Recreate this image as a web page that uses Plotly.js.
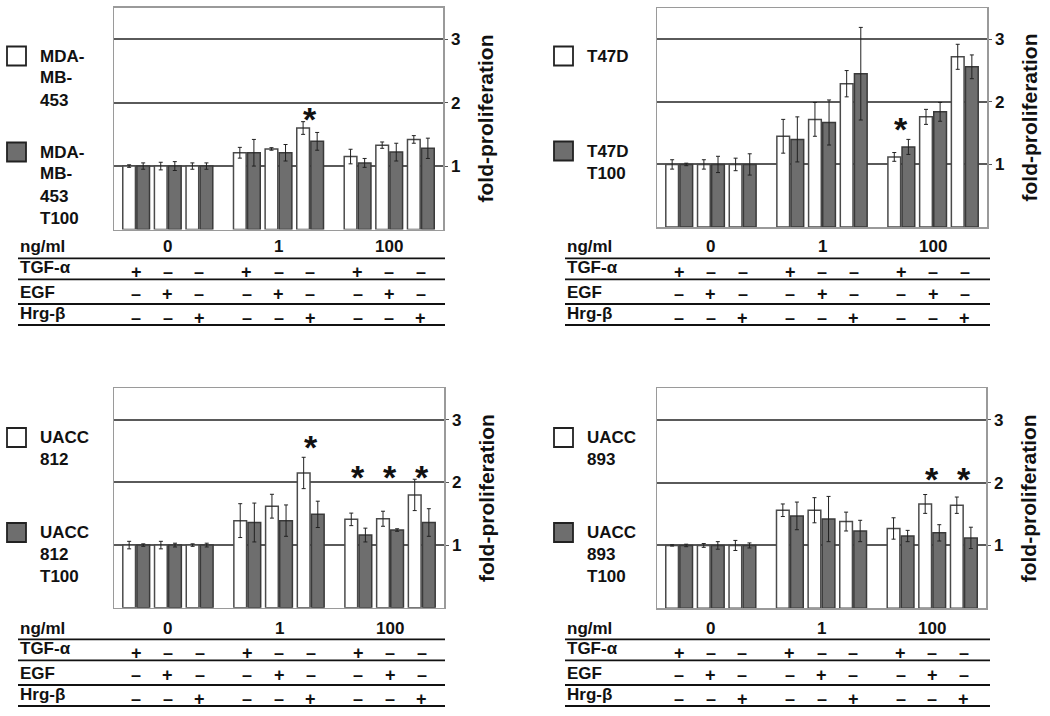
<!DOCTYPE html>
<html>
<head>
<meta charset="utf-8">
<script src="https://cdn.plot.ly/plotly-3.0.1.min.js"></script>
<style>body{margin:0;background:#fff}</style>
</head>
<body>
<div id="chart" style="width:1050px;height:716px"></div>
<script>
var doses = ['0', '1', '100'];
var factors = ['TGF-α', 'EGF', 'Hrg-β'];
var tgfSigns = ['+', '–', '–', '+', '–', '–', '+', '–', '–'];
var egfSigns = ['–', '+', '–', '–', '+', '–', '–', '+', '–'];
var hrgSigns = ['–', '–', '+', '–', '–', '+', '–', '–', '+'];

// MDA-MB-453
var mdaParent = [1.0, 1.0, 1.0, 1.21, 1.27, 1.60, 1.15, 1.33, 1.42];
var mdaParentErr = [0.02, 0.06, 0.05, 0.085, 0.02, 0.10, 0.115, 0.05, 0.06];
var mdaT100 = [1.0, 1.0, 1.0, 1.21, 1.21, 1.39, 1.05, 1.22, 1.28];
var mdaT100Err = [0.05, 0.07, 0.05, 0.21, 0.13, 0.14, 0.07, 0.14, 0.16];
var mdaStars = [5];
var mdaStarY = [1.85];

// T47D
var t47Parent = [1.0, 1.0, 1.0, 1.45, 1.72, 2.29, 1.12, 1.76, 2.72];
var t47ParentErr = [0.075, 0.075, 0.1, 0.27, 0.27, 0.21, 0.07, 0.12, 0.2];
var t47T100 = [1.0, 1.0, 1.0, 1.40, 1.67, 2.45, 1.28, 1.84, 2.56];
var t47T100Err = [0.02, 0.13, 0.17, 0.36, 0.36, 0.74, 0.12, 0.15, 0.19];
var t47Stars = [6];
var t47StarY = [1.68];

// UACC 812
var u812Parent = [1.0, 1.0, 1.0, 1.39, 1.62, 2.15, 1.41, 1.42, 1.80];
var u812ParentErr = [0.06, 0.06, 0.02, 0.27, 0.19, 0.25, 0.1, 0.12, 0.25];
var u812T100 = [1.0, 1.0, 1.0, 1.36, 1.39, 1.49, 1.16, 1.24, 1.36];
var u812T100Err = [0.02, 0.03, 0.03, 0.31, 0.25, 0.21, 0.11, 0.02, 0.22];
var u812Stars = [5, 6, 7, 8];
var u812StarY = [2.67, 2.19, 2.19, 2.19];

// UACC 893
var u893Parent = [1.0, 1.0, 1.0, 1.56, 1.56, 1.38, 1.27, 1.66, 1.64];
var u893ParentErr = [0.01, 0.03, 0.08, 0.1, 0.2, 0.15, 0.17, 0.15, 0.13];
var u893T100 = [1.0, 1.0, 1.0, 1.47, 1.42, 1.23, 1.15, 1.2, 1.12];
var u893T100Err = [0.02, 0.06, 0.04, 0.22, 0.36, 0.17, 0.09, 0.13, 0.17];
var u893Stars = [7, 8];
var u893StarY = [2.17, 2.17];

var FONT = 'Liberation Sans, Arial, sans-serif';
function px(x) { return x / 1050; }
function py(y) { return 1 - y / 716; }
// condition index -> x position, with a wider gap between dose groups
function pos(c) { return Math.floor(c / 3) * 3.5 + (c % 3); }

var panels = [
  {name: ['MDA-', 'MB-', '453'], parent: mdaParent, parentErr: mdaParentErr, t100: mdaT100, t100Err: mdaT100Err,
   stars: mdaStars, starY: mdaStarY, left: 114, right: 443, top: 7.5, bottom: 229.5,
   boxX: 7, textX: 38, tabX0: 18, tabX1: 445, legY: [56, 152], dy: 0},
  {name: ['T47D'], parent: t47Parent, parentErr: t47ParentErr, t100: t47T100, t100Err: t47T100Err,
   stars: t47Stars, starY: t47StarY, left: 657, right: 987, top: 8, bottom: 227,
   boxX: 554, textX: 585, tabX0: 565, tabX1: 990, legY: [56, 151], dy: 0},
  {name: ['UACC', '812'], parent: u812Parent, parentErr: u812ParentErr, t100: u812T100, t100Err: u812T100Err,
   stars: u812Stars, starY: u812StarY, left: 114, right: 444, top: 388.3, bottom: 607.8,
   boxX: 7, textX: 38, tabX0: 18, tabX1: 445, legY: [437.5, 532.5], dy: 381},
  {name: ['UACC', '893'], parent: u893Parent, parentErr: u893ParentErr, t100: u893T100, t100Err: u893T100Err,
   stars: u893Stars, starY: u893StarY, left: 657, right: 986, top: 388.3, bottom: 608.3,
   boxX: 554, textX: 585, tabX0: 565, tabX1: 990, legY: [437.5, 532.5], dy: 381}
];

var data = [];
var layout = {
  width: 1050, height: 716,
  margin: {l: 0, r: 0, t: 0, b: 0},
  paper_bgcolor: '#fff', plot_bgcolor: '#fff',
  showlegend: false,
  barmode: 'group', bargap: 0.11, bargroupgap: 0.1,
  font: {family: FONT, color: '#111'},
  shapes: [], annotations: []
};

var signRows = [tgfSigns, egfSigns, hrgSigns];
var xs = [0, 1, 2, 3, 4, 5, 6, 7, 8].map(pos);

panels.forEach(function (p, i) {
  var n = i === 0 ? '' : String(i + 1);
  var xa = 'x' + n, ya = 'y' + n;

  data.push({
    type: 'bar', x: xs, y: p.parent, xaxis: xa, yaxis: ya,
    marker: {color: '#ffffff', line: {color: '#4a4a4a', width: 1.5}},
    error_y: {type: 'data', array: p.parentErr, visible: true, color: '#222', thickness: 1, width: 2}
  });
  data.push({
    type: 'bar', x: xs, y: p.t100, xaxis: xa, yaxis: ya,
    marker: {color: '#6e6e6e', line: {color: '#3a3a3a', width: 1.5}},
    error_y: {type: 'data', array: p.t100Err, visible: true, color: '#222', thickness: 1, width: 2}
  });

  layout['xaxis' + n] = {
    domain: [px(p.left), px(p.right)], anchor: ya, range: [-0.7, 9.7],
    showticklabels: false, ticks: '', showgrid: false, zeroline: false,
    showline: true, mirror: true, linecolor: '#9a9a9a', linewidth: 1.5, fixedrange: true
  };
  layout['yaxis' + n] = {
    domain: [py(p.bottom), py(p.top)], anchor: xa, side: 'right', range: [0, 3.5],
    tickvals: [1, 2, 3], ticks: 'outside', ticklen: 3, tickcolor: '#555',
    tickfont: {family: FONT, size: 17, color: '#111', weight: 'bold'},
    showgrid: true, gridcolor: '#5a5a5a', gridwidth: 2, zeroline: false,
    showline: true, mirror: true, linecolor: '#9a9a9a', linewidth: 1.5, fixedrange: true,
    title: {text: 'fold-proliferation', standoff: 19, font: {family: FONT, size: 21, color: '#111', weight: 'bold'}}
  };

  // legend boxes and labels
  [0, 1].forEach(function (k) {
    var cy = p.legY[k];
    layout.shapes.push({type: 'rect', xref: 'paper', yref: 'paper',
      x0: px(p.boxX), x1: px(p.boxX + 19), y0: py(cy + 9.5), y1: py(cy - 9.5),
      fillcolor: k === 0 ? '#ffffff' : '#6e6e6e', line: {color: '#222', width: 1.8}});
    var lines = k === 0 ? p.name : p.name.concat(['T100']);
    lines.forEach(function (t, j) {
      layout.annotations.push({xref: 'paper', yref: 'paper', x: px(p.textX), y: py(cy + j * 22),
        xanchor: 'left', yanchor: 'middle', showarrow: false, text: t,
        font: {family: FONT, size: 17, color: '#111', weight: 'bold'}});
    });
  });

  // table under the plot
  [258.3, 279.3, 304, 325].forEach(function (ly) {
    layout.shapes.push({type: 'line', xref: 'paper', yref: 'paper',
      x0: px(p.tabX0), x1: px(p.tabX1), y0: py(ly + p.dy), y1: py(ly + p.dy),
      line: {color: '#111', width: 1.8}});
  });
  var labY = [247, 267, 292, 313];
  ['ng/ml'].concat(factors).forEach(function (t, j) {
    layout.annotations.push({xref: 'paper', yref: 'paper', x: px(p.tabX0), y: py(labY[j] + p.dy),
      xanchor: 'left', yanchor: 'middle', showarrow: false, text: t,
      font: {family: FONT, size: 17, color: '#111', weight: 'bold'}});
  });
  doses.forEach(function (d, g) {
    layout.annotations.push({xref: xa, yref: 'paper', x: pos(g * 3 + 1), y: py(247 + p.dy),
      xanchor: 'center', yanchor: 'middle', showarrow: false, text: d,
      font: {family: FONT, size: 17, color: '#111', weight: 'bold'}});
  });
  var signY = [272, 294, 318];
  signRows.forEach(function (row, r) {
    row.forEach(function (s, c) {
      layout.annotations.push({xref: xa, yref: 'paper', x: pos(c), y: py(signY[r] + p.dy),
        xanchor: 'center', yanchor: 'middle', showarrow: false, text: s,
        font: {family: FONT, size: 18, color: '#111', weight: 'bold'}});
    });
  });

  // significance marks
  p.stars.forEach(function (c, j) {
    layout.annotations.push({xref: xa, yref: ya, x: pos(c), y: p.starY[j], yshift: -7,
      xanchor: 'center', yanchor: 'middle', showarrow: false, text: '*',
      font: {family: FONT, size: 34, color: '#111', weight: 'bold'}});
  });
});

Plotly.newPlot('chart', data, layout, {staticPlot: true});
</script>
</body>
</html>
